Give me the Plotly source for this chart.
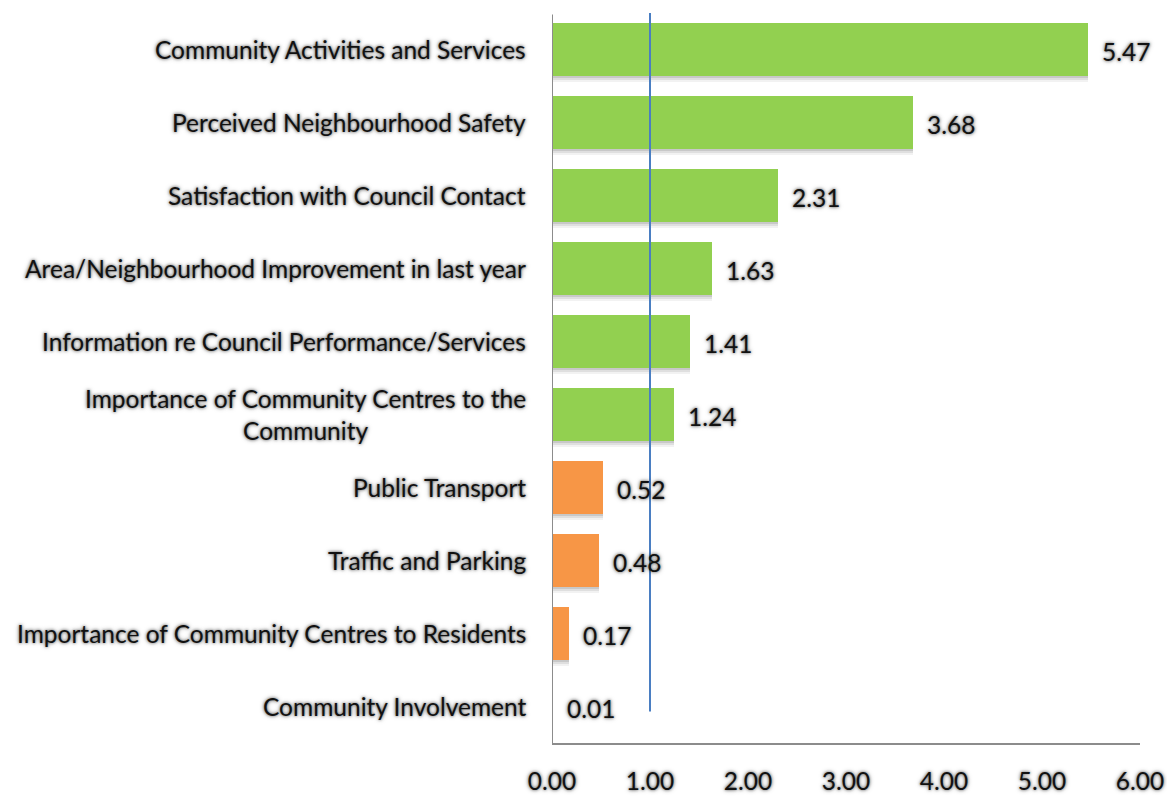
import plotly.graph_objects as go

# Drivers and their scores, listed top to bottom
categories = [
    "Community Activities and Services",
    "Perceived Neighbourhood Safety",
    "Satisfaction with Council Contact",
    "Area/Neighbourhood Improvement in last year",
    "Information re Council Performance/Services",
    "Importance of Community Centres to the<br>Community",
    "Public Transport",
    "Traffic and Parking",
    "Importance of Community Centres to Residents",
    "Community Involvement",
]
scores = [5.47, 3.68, 2.31, 1.63, 1.41, 1.24, 0.52, 0.48, 0.17, 0.01]
threshold = 1.00
x_ticks = [0, 1, 2, 3, 4, 5, 6]

GREEN = "#92D050"
ORANGE = "#F79646"
bar_colors = [GREEN if v >= threshold else ORANGE for v in scores]

FONT = "Lato, 'Open Sans', sans-serif"
GLOW = "0px 0px 3px rgba(0,0,0,0.6), 0px 0px 5px rgba(0,0,0,0.35)"
TEXT_SIZE = 24.5

positions = list(range(len(categories)))
BAR_W = 0.73

fig = go.Figure()

# soft drop shadow under each bar
for dy, alpha in [(0.025, 0.10), (0.05, 0.08), (0.075, 0.05)]:
    fig.add_trace(go.Bar(
        x=scores, y=[p + dy for p in positions], orientation="h",
        width=BAR_W, marker=dict(color=f"rgba(0,0,0,{alpha})", line_width=0),
        hoverinfo="skip", showlegend=False,
    ))

fig.add_trace(go.Bar(
    x=scores, y=positions, orientation="h", width=BAR_W,
    marker=dict(color=bar_colors, line_width=0),
    showlegend=False,
))

# reference line at the threshold value
fig.add_trace(go.Scatter(
    x=[threshold, threshold], y=[-0.5, 9.07], mode="lines",
    line=dict(color="#4A7EC2", width=2), hoverinfo="skip", showlegend=False,
))

# value labels to the right of each bar
for p, v in zip(positions, scores):
    fig.add_annotation(
        x=v, y=p, xref="x", yref="y", text=f"{v:.2f}", showarrow=False,
        xanchor="left", yanchor="middle", xshift=12, yshift=-2,
        font=dict(family=FONT, size=TEXT_SIZE, color="#111", shadow=GLOW),
    )

# category labels, right-aligned against the axis with centred wrapping
for p, c in zip(positions, categories):
    fig.add_annotation(
        x=0, y=p, xref="paper", yref="y", text=c, showarrow=False,
        xanchor="right", yanchor="middle", xshift=-24, align="center",
        font=dict(family=FONT, size=TEXT_SIZE, color="#111", shadow=GLOW),
    )

fig.update_layout(
    width=1167, height=796,
    margin=dict(l=552, r=27, t=13, b=53),
    paper_bgcolor="white", plot_bgcolor="white",
    barmode="overlay", bargap=0,
    xaxis=dict(
        range=[0, 6], tickvals=x_ticks, tickformat=".2f",
        showgrid=False, zeroline=False, automargin=False,
        showline=True, linecolor="#8C8C8C", linewidth=2,
        ticks="", ticklabelstandoff=16,
        tickfont=dict(family=FONT, size=TEXT_SIZE, color="#111", shadow=GLOW),
    ),
    yaxis=dict(
        range=[9.5, -0.5], showticklabels=False, showgrid=False,
        zeroline=False, ticks="", automargin=False,
    ),
    shapes=[dict(
        type="line", xref="x", yref="paper", x0=0, x1=0, y0=0, y1=0.998,
        line=dict(color="#8C8C8C", width=2),
    )],
)

fig.write_html("out.html")
